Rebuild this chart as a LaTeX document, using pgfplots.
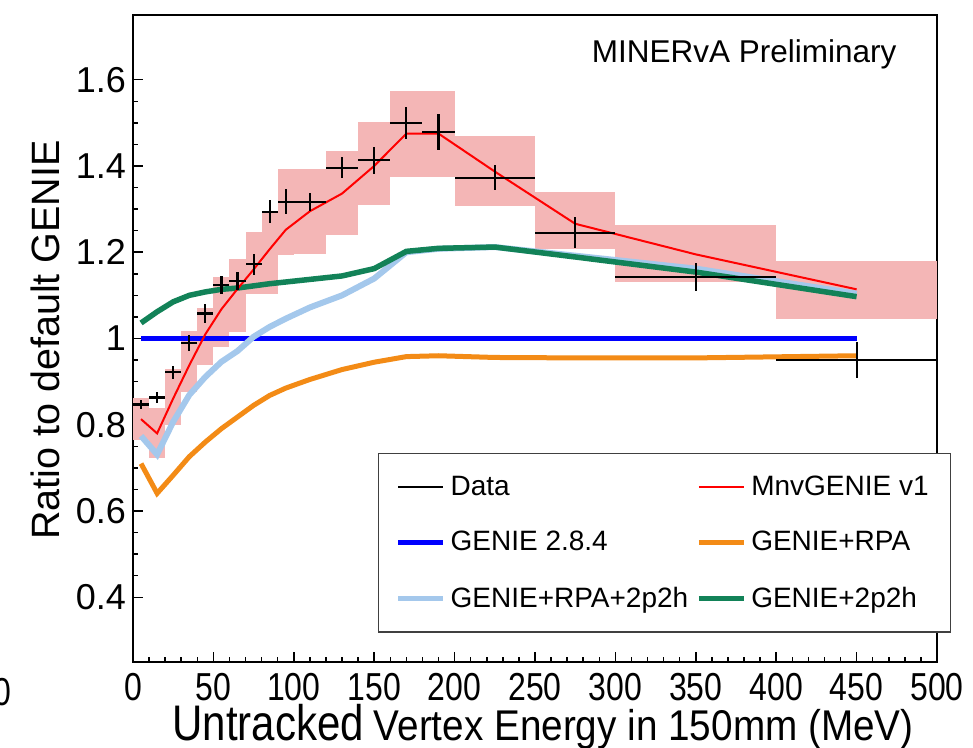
\documentclass[border=0pt]{standalone}
\usepackage{fontspec}
\setmainfont{Liberation Sans}
\newfontfamily\tickfont[FakeStretch=0.82]{Liberation Sans}
\newfontfamily\labfont[FakeStretch=0.84]{Liberation Sans}
\newfontfamily\labfontb[FakeStretch=0.90]{Liberation Sans}
\usepackage{pgfplots}
\usepackage{pgfplotstable}
\pgfplotsset{compat=1.18}

\definecolor{mblue}{RGB}{0,0,255}
\definecolor{morange}{RGB}{243,139,22}
\definecolor{mlblue}{RGB}{164,200,236}
\definecolor{mgreen}{RGB}{18,130,88}
\definecolor{mred}{RGB}{255,0,0}
\definecolor{mband}{RGB}{244,182,182}

% data: bin centre, half width, ratio, stat error
\pgfplotstableread{
xc hw dy dey
5 5 0.847 0.011
15 5 0.863 0.013
25 5 0.922 0.015
35 5 0.990 0.019
45 5 1.058 0.021
55 5 1.124 0.021
65 5 1.134 0.021
75 5 1.172 0.024
85 5 1.294 0.026
95 5 1.317 0.029
110 10 1.316 0.021
130 10 1.396 0.024
150 10 1.413 0.031
170 10 1.500 0.037
190 10 1.479 0.041
225 25 1.373 0.029
275 25 1.245 0.036
350 50 1.143 0.033
450 50 0.951 0.042
}\datatab

% models at bin centres
\pgfplotstableread{
x red orange lblue green blue
5 0.813 0.710 0.774 1.036 1
15 0.780 0.641 0.731 1.062 1
25 0.861 0.683 0.807 1.085 1
35 0.938 0.726 0.869 1.100 1
45 1.010 0.760 0.911 1.108 1
55 1.068 0.791 0.946 1.114 1
65 1.115 0.818 0.971 1.117 1
75 1.160 0.845 1.004 1.122 1
85 1.207 0.868 1.027 1.127 1
95 1.252 0.885 1.046 1.131 1
110 1.295 0.905 1.072 1.137 1
130 1.336 0.928 1.100 1.145 1
150 1.400 0.945 1.139 1.162 1
170 1.475 0.958 1.200 1.202 1
190 1.475 0.960 1.208 1.209 1
225 1.387 0.956 1.212 1.212 1
275 1.266 0.955 1.192 1.189 1
350 1.195 0.955 1.162 1.154 1
450 1.114 0.960 1.104 1.097 1
}\modeltab

\begin{document}
\begin{tikzpicture}
\useasboundingbox (0pt,0pt) rectangle (486.5pt,374pt);
\begin{axis}[
  at={(66.5pt,43pt)}, anchor=south west,
  width=402pt, height=323.5pt, scale only axis,
  xmin=0, xmax=500, ymin=0.25, ymax=1.75,
  xtick={0,50,...,500},
  xticklabels={0,50,100,150,200,250,300,350,400,450,500},
  ytick={0.4,0.6,0.8,1,1.2,1.4,1.6},
  yticklabels={0.4,0.6,0.8,1,1.2,1.4,1.6},
  minor x tick num=4, minor y tick num=3,
  tick pos=left, tick align=inside,
  major tick length=5pt, minor tick length=2.5pt,
  every tick/.style={black, line width=0.75pt},
  axis line style={line width=1.25pt},
  xticklabel style={font=\tickfont\fontsize{19.5}{21}\selectfont, inner sep=0pt, yshift=-5.5pt},
  yticklabel style={font=\fontsize{18}{20}\selectfont},
  ylabel={Ratio to default GENIE},
  ylabel style={font=\fontsize{19.75}{21}\selectfont, at={(axis description cs:-0.1095,0.4977)}, anchor=center},
  xlabel={{\labfont\fontsize{25}{26}\selectfont Untracked}\hspace{5pt}{\labfontb\fontsize{21.5}{23}\selectfont Vertex Energy in 150mm (MeV)}},
  xlabel style={at={(axis description cs:0.51,-0.1206)}, anchor=base, inner sep=0pt},
  legend columns=2,
  legend cell align=left,
  legend image code/.code={\draw[#1] (0pt,0pt) -- (22.5pt,0pt);},
  legend style={at={(axis description cs:0.3047,0.323)}, anchor=north west,
    draw=black!75, line width=0.65pt,
    font=\fontsize{14}{16}\selectfont,
    inner xsep=8.5pt, inner ysep=8.5pt, row sep=11.5pt,
    nodes={inner sep=2.5pt},
    /tikz/every even column/.append style={column sep=1.5pt}},
]
% error band (one box per bin: low edge, high edge, lower, upper)
\addplot[fill=mband, draw=none, forget plot] coordinates {(0,0.764) (10,0.764) (10,0.862) (0,0.862)} --cycle;
\addplot[fill=mband, draw=none, forget plot] coordinates {(10,0.722) (20,0.722) (20,0.838) (10,0.838)} --cycle;
\addplot[fill=mband, draw=none, forget plot] coordinates {(20,0.799) (30,0.799) (30,0.930) (20,0.930)} --cycle;
\addplot[fill=mband, draw=none, forget plot] coordinates {(30,0.875) (40,0.875) (40,1.018) (30,1.018)} --cycle;
\addplot[fill=mband, draw=none, forget plot] coordinates {(40,0.938) (50,0.938) (50,1.070) (40,1.070)} --cycle;
\addplot[fill=mband, draw=none, forget plot] coordinates {(50,0.981) (60,0.981) (60,1.143) (50,1.143)} --cycle;
\addplot[fill=mband, draw=none, forget plot] coordinates {(60,1.015) (70,1.015) (70,1.184) (60,1.184)} --cycle;
\addplot[fill=mband, draw=none, forget plot] coordinates {(70,1.102) (80,1.102) (80,1.247) (70,1.247)} --cycle;
\addplot[fill=mband, draw=none, forget plot] coordinates {(80,1.102) (90,1.102) (90,1.290) (80,1.290)} --cycle;
\addplot[fill=mband, draw=none, forget plot] coordinates {(90,1.193) (100,1.193) (100,1.394) (90,1.394)} --cycle;
\addplot[fill=mband, draw=none, forget plot] coordinates {(100,1.197) (120,1.197) (120,1.394) (100,1.394)} --cycle;
\addplot[fill=mband, draw=none, forget plot] coordinates {(120,1.241) (140,1.241) (140,1.434) (120,1.434)} --cycle;
\addplot[fill=mband, draw=none, forget plot] coordinates {(140,1.309) (160,1.309) (160,1.503) (140,1.503)} --cycle;
\addplot[fill=mband, draw=none, forget plot] coordinates {(160,1.375) (180,1.375) (180,1.573) (160,1.573)} --cycle;
\addplot[fill=mband, draw=none, forget plot] coordinates {(180,1.375) (200,1.375) (200,1.573) (180,1.573)} --cycle;
\addplot[fill=mband, draw=none, forget plot] coordinates {(200,1.307) (250,1.307) (250,1.470) (200,1.470)} --cycle;
\addplot[fill=mband, draw=none, forget plot] coordinates {(250,1.207) (300,1.207) (300,1.340) (250,1.340)} --cycle;
\addplot[fill=mband, draw=none, forget plot] coordinates {(300,1.130) (400,1.130) (400,1.264) (300,1.264)} --cycle;
\addplot[fill=mband, draw=none, forget plot] coordinates {(400,1.045) (500,1.045) (500,1.179) (400,1.179)} --cycle;
% models
\addplot[mblue, line width=2.5pt, forget plot] table[x=x, y=blue]{\modeltab};
\addplot[morange, line width=2.5pt, forget plot] table[x=x, y=orange]{\modeltab};
\addplot[mlblue, line width=3pt, forget plot] table[x=x, y=lblue]{\modeltab};
\addplot[mgreen, line width=2.75pt, forget plot] table[x=x, y=green]{\modeltab};
\addplot[mred, line width=1pt, forget plot] table[x=x, y=red]{\modeltab};
% data
\addplot[draw=none, mark=none, forget plot,
  error bars/.cd, x dir=both, x explicit, y dir=both, y explicit,
  error mark=none, error bar style={draw=black, line width=1.1pt}]
  table[x=xc, y=dy, x error=hw, y error=dey]{\datatab};
% legend
\addlegendimage{black, line width=1pt}
\addlegendentry{Data}
\addlegendimage{mred, line width=1pt}
\addlegendentry{MnvGENIE v1}
\addlegendimage{mblue, line width=2.5pt}
\addlegendentry{GENIE 2.8.4}
\addlegendimage{morange, line width=2.5pt}
\addlegendentry{GENIE+RPA}
\addlegendimage{mlblue, line width=2.5pt}
\addlegendentry{GENIE+RPA+2p2h}
\addlegendimage{mgreen, line width=2.5pt}
\addlegendentry{GENIE+2p2h}
\node[anchor=base east, inner sep=0pt, font=\fontsize{15.75}{17}\selectfont] at (axis description cs:0.950,0.927) {MINERvA Preliminary};
\end{axis}
\node[anchor=base east, inner sep=0pt, font=\tickfont\fontsize{19.5}{21}\selectfont] at (6pt,21pt) {0};
\end{tikzpicture}
\end{document}
